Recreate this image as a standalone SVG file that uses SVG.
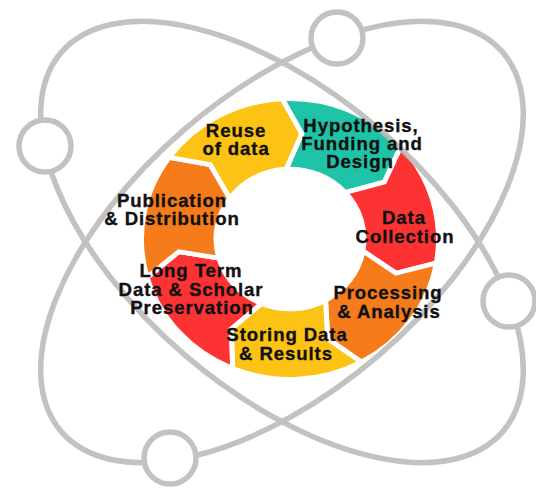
<svg xmlns="http://www.w3.org/2000/svg" width="536" height="491" viewBox="0 0 536 491">
  <style>
    .seg { stroke: #ffffff; stroke-width: 5; stroke-linejoin: miter; }
    .teal { fill: #1fc3a7; }
    .red { fill: #fd3333; }
    .orange { fill: #f57b1b; }
    .yellow { fill: #fcc314; }
    .lbl { font-family: "Liberation Sans", Arial, Helvetica, sans-serif; font-weight: bold; font-size: 18.6px; letter-spacing: 0.9px; fill: #111111; stroke: #111111; stroke-width: 0.35; text-anchor: middle; }
    .orbit { fill: none; stroke: #b8b8b8; stroke-width: 5.5; }
    .atom { fill: #ffffff; stroke: #b8b8b8; stroke-width: 5.5; }
  </style>
  <rect width="536" height="491" fill="#ffffff"/>

  <g id="cycle-ring" transform="translate(290,239) scale(1,0.945)">
    <g id="seg-hypothesis"><path class="seg teal" d="M-7.77,-148.30 A148.5 148.5 0 0 1 111.09,-98.53 L94.38,-60.29 L55.36,-49.10 A74 74 0 0 0 -3.87,-73.90 L11.71,-111.39 Z"/></g>
    <g id="seg-collection"><path class="seg red" d="M111.09,-98.53 A148.5 148.5 0 0 1 146.31,25.43 L105.99,36.21 L72.91,12.67 A74 74 0 0 0 55.36,-49.10 L94.38,-60.29 Z"/></g>
    <g id="seg-processing"><path class="seg orange" d="M146.31,25.43 A148.5 148.5 0 0 1 71.34,130.24 L37.77,105.44 L35.55,64.90 A74 74 0 0 0 72.91,12.67 L105.99,36.21 Z"/></g>
    <g id="seg-storing"><path class="seg yellow" d="M71.34,130.24 A148.5 148.5 0 0 1 -57.33,136.99 L-58.87,95.28 L-28.57,68.26 A74 74 0 0 0 35.55,64.90 L37.77,105.44 Z"/></g>
    <g id="seg-preservation"><path class="seg red" d="M-57.33,136.99 A148.5 148.5 0 0 1 -142.85,40.58 L-111.20,13.38 L-71.18,20.22 A74 74 0 0 0 -28.57,68.26 L-58.87,95.28 Z"/></g>
    <g id="seg-publication"><path class="seg orange" d="M-142.85,40.58 A148.5 148.5 0 0 1 -120.79,-86.39 L-79.79,-78.60 L-60.19,-43.05 A74 74 0 0 0 -71.18,20.22 L-111.20,13.38 Z"/></g>
    <g id="seg-reuse"><path class="seg yellow" d="M-120.79,-86.39 A148.5 148.5 0 0 1 -7.77,-148.30 L11.71,-111.39 L-3.87,-73.90 A74 74 0 0 0 -60.19,-43.05 L-79.79,-78.60 Z"/></g>
  </g>

  <g id="orbits" opacity="0.85">
    <ellipse class="orbit" cx="282" cy="242" rx="291" ry="149" transform="rotate(40.6 282 242)"/>
    <ellipse class="orbit" cx="282" cy="242" rx="291" ry="149" transform="rotate(-40.6 282 242)"/>
    <circle class="atom" cx="45" cy="146" r="26"/>
    <circle class="atom" cx="337" cy="38" r="26"/>
    <circle class="atom" cx="509" cy="301" r="26"/>
    <circle class="atom" cx="170" cy="458" r="26"/>
  </g>

  <g id="node-hypothesis">
    <text class="lbl" x="361" y="132">Hypothesis,</text>
    <text class="lbl" x="362" y="150">Funding and</text>
    <text class="lbl" x="360" y="168">Design</text>
  </g>
  <g id="node-collection">
    <text class="lbl" x="404" y="224">Data</text>
    <text class="lbl" x="405" y="243">Collection</text>
  </g>
  <g id="node-processing">
    <text class="lbl" x="388" y="299">Processing</text>
    <text class="lbl" x="389" y="318">&amp; Analysis</text>
  </g>
  <g id="node-storing">
    <text class="lbl" x="287" y="341">Storing Data</text>
    <text class="lbl" x="286" y="360">&amp; Results</text>
  </g>
  <g id="node-preservation">
    <text class="lbl" x="191" y="277">Long Term</text>
    <text class="lbl" x="191" y="296">Data &amp; Scholar</text>
    <text class="lbl" x="192" y="314">Preservation</text>
  </g>
  <g id="node-publication">
    <text class="lbl" x="172" y="207">Publication</text>
    <text class="lbl" x="172" y="225">&amp; Distribution</text>
  </g>
  <g id="node-reuse">
    <text class="lbl" x="236" y="137">Reuse</text>
    <text class="lbl" x="236" y="155">of data</text>
  </g>
</svg>
